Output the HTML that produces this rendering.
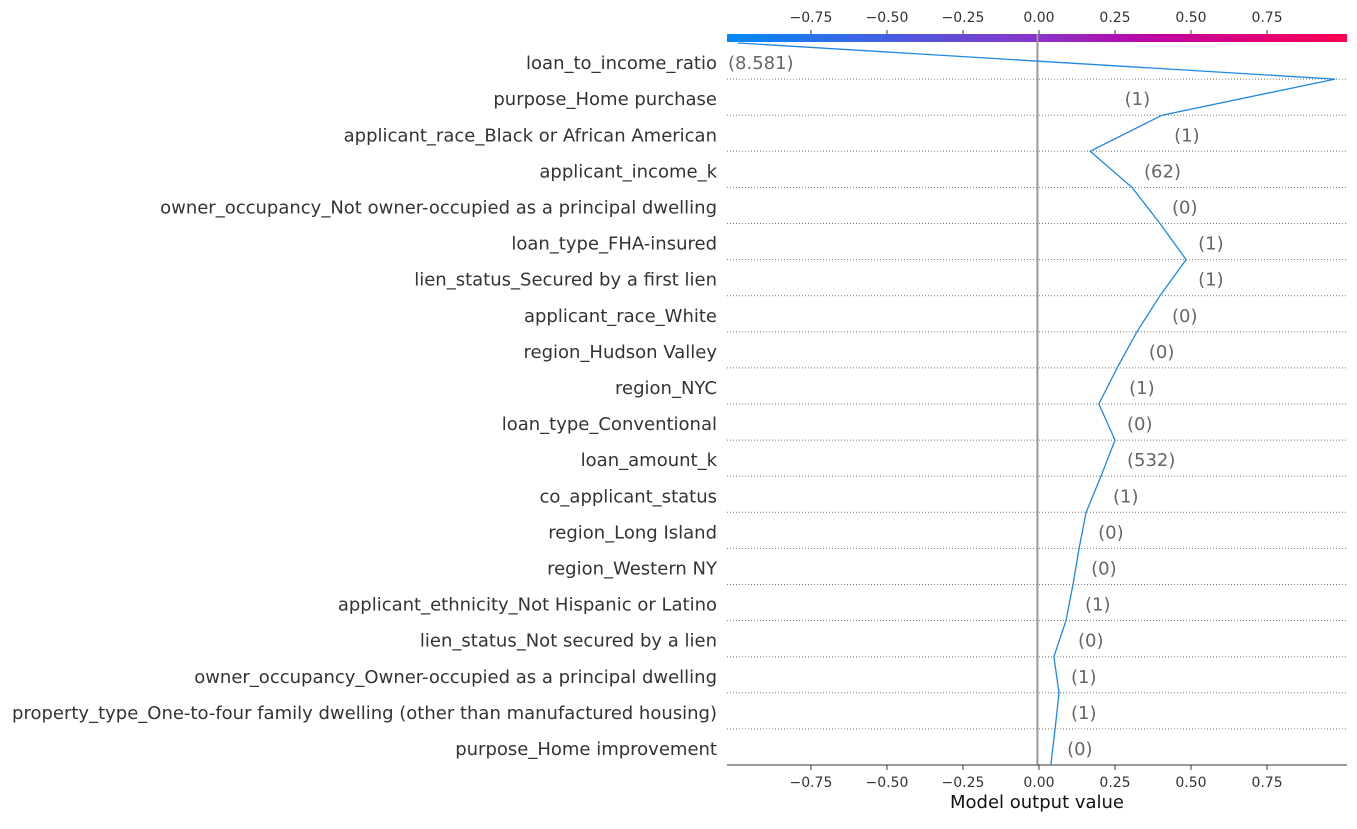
<!DOCTYPE html>
<html><head><meta charset="utf-8"><style>
body{margin:0;background:#fff;width:1357px;height:824px;overflow:hidden;font-family:"Liberation Sans","DejaVu Sans",sans-serif}
</style></head><body>
<svg id="c" width="1357" height="824" style="font-family:'DejaVu Sans','Liberation Sans',sans-serif">
<defs><linearGradient id="g" x1="0" x2="1"><stop offset="0" stop-color="#008bfb"/><stop offset="0.5" stop-color="#8a34c8"/><stop offset="0.7" stop-color="#c000a0"/><stop offset="1" stop-color="#ff0052"/></linearGradient></defs>
</svg>
<script>
const features=["loan_to_income_ratio","purpose_Home purchase","applicant_race_Black or African American","applicant_income_k","owner_occupancy_Not owner-occupied as a principal dwelling","loan_type_FHA-insured","lien_status_Secured by a first lien","applicant_race_White","region_Hudson Valley","region_NYC","loan_type_Conventional","loan_amount_k","co_applicant_status","region_Long Island","region_Western NY","applicant_ethnicity_Not Hispanic or Latino","lien_status_Not secured by a lien","owner_occupancy_Owner-occupied as a principal dwelling","property_type_One-to-four family dwelling (other than manufactured housing)","purpose_Home improvement"];
const featureValues=["8.581","1","1","62","0","1","1","0","0","1","0","532","1","0","0","1","0","1","1","0"];
const cumValues=[-0.99,0.974,0.405,0.168,0.306,0.398,0.484,0.398,0.322,0.257,0.197,0.25,0.204,0.155,0.132,0.112,0.089,0.049,0.066,0.053,0.039];
const ticks=[-0.75,-0.5,-0.25,0,0.25,0.5,0.75];
const tickLabels=["−0.75","−0.50","−0.25","0.00","0.25","0.50","0.75"];
const NS="http://www.w3.org/2000/svg",svg=document.getElementById('c');
const x0=727,x1=1347,vmin=-1.026,vmax=1.013;
const X=v=>x0+(v-vmin)/(vmax-vmin)*(x1-x0);
const plotTop=43,rowH=36.1,plotBottom=plotTop+rowH*features.length;
const Y=i=>plotTop+i*rowH;
function el(t,a,p){const e=document.createElementNS(NS,t);for(const k in a)e.setAttribute(k,a[k]);(p||svg).appendChild(e);return e;}
let cb=el('rect',{x:x0,y:34,width:x1-x0,height:8,fill:'url(#g)'});


ticks.forEach((t,i)=>{
 el('line',{x1:X(t),x2:X(t),y1:30,y2:34,stroke:'#333'});
 let a=el('text',{x:X(t),y:22,'text-anchor':'middle','font-size':14,fill:'#333'});a.textContent=tickLabels[i];
 
 
 el('line',{x1:X(t),x2:X(t),y1:plotBottom,y2:plotBottom+5,stroke:'#333'});
 let b=el('text',{x:X(t),y:plotBottom+22,'text-anchor':'middle','font-size':14,fill:'#333'});b.textContent=tickLabels[i];
 
 
});
features.forEach((f,i)=>{
 if(i>0){el('line',{x1:x0,x2:x1,y1:Y(i),y2:Y(i),stroke:'#777','stroke-width':1,'stroke-dasharray':'1,2'});}
 let t=el('text',{x:717,y:Y(i)+rowH/2+8,'text-anchor':'end','font-size':18,fill:'#333'});t.textContent=f;
 
 
});
let vl=el('line',{x1:X(-0.005),x2:X(-0.005),y1:34,y2:plotBottom,stroke:'#999','stroke-width':2});


el('line',{x1:x0,x2:x1,y1:plotBottom,y2:plotBottom,stroke:'#333'});
let xt=el('text',{x:1037,y:plotBottom+43,'text-anchor':'middle','font-size':18,fill:'#111'});xt.textContent='Model output value';


let pts=cumValues.map((v,i)=>X(v).toFixed(1)+','+Y(i).toFixed(1)).join(' ');
let pl=el('polyline',{points:pts,fill:'none',stroke:'#1e88e5','stroke-width':1.3});


featureValues.forEach((v,i)=>{
 const a=X(cumValues[i]),b=X(cumValues[i+1]);
 let xx=Math.max(a,b)+12,anchor='start';
 if(xx>1290){xx=Math.max(Math.min(a,b)-12,x0+1);anchor=(xx===x0+1)?'start':'end';}
 let t=el('text',{x:xx,y:Y(i)+rowH/2+8,'text-anchor':anchor,'font-size':18,fill:'#666'});t.textContent='('+v+')';
 
 
});
</script>
</body></html>
